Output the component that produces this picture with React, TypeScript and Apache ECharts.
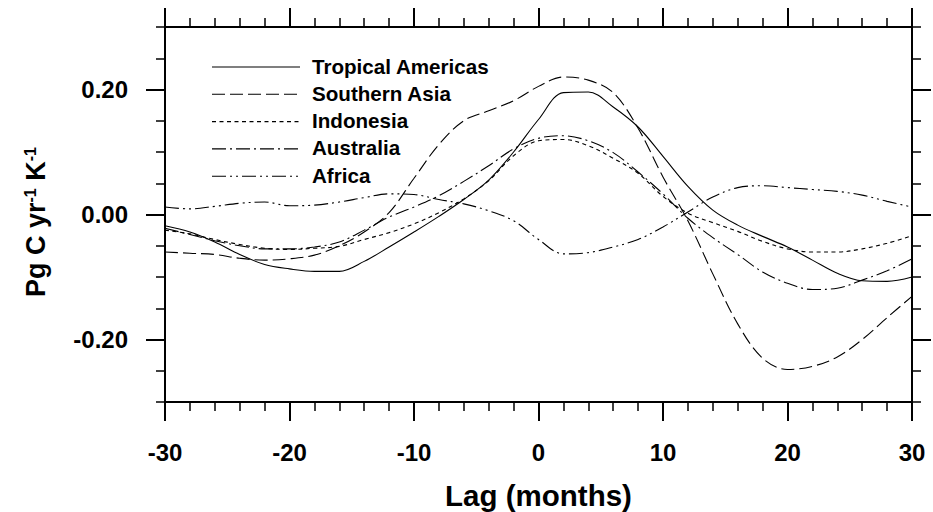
import React, { useEffect, useRef } from "react";
import * as echarts from "echarts";

const lags = [-30, -28, -26, -24, -22, -20, -18, -16, -14, -12, -10, -8, -6, -4, -2, 0, 2, 4, 6, 8, 10, 12, 14, 16, 18, 20, 22, 24, 26, 28, 30];

const tropicalAmericas = [-0.018, -0.028, -0.044, -0.064, -0.08, -0.087, -0.091, -0.091, -0.075, -0.052, -0.028, -0.003, 0.024, 0.055, 0.1, 0.152, 0.195, 0.196, 0.172, 0.14, 0.093, 0.045, 0.007, -0.017, -0.035, -0.052, -0.073, -0.094, -0.106, -0.107, -0.1];
const southernAsia = [-0.06, -0.062, -0.064, -0.07, -0.073, -0.071, -0.065, -0.05, -0.028, 0.003, 0.058, 0.112, 0.15, 0.166, 0.182, 0.205, 0.22, 0.215, 0.195, 0.138, 0.06, -0.01, -0.095, -0.175, -0.23, -0.248, -0.243, -0.228, -0.2, -0.165, -0.131];
const indonesia = [-0.025, -0.031, -0.04, -0.048, -0.054, -0.056, -0.054, -0.051, -0.04, -0.029, -0.015, 0.003, 0.025, 0.054, 0.094, 0.118, 0.12, 0.11, 0.09, 0.066, 0.029, 0.002, -0.013, -0.027, -0.043, -0.055, -0.06, -0.06, -0.055, -0.046, -0.034];
const australia = [-0.022, -0.032, -0.042, -0.05, -0.055, -0.055, -0.052, -0.044, -0.025, -0.004, 0.012, 0.03, 0.053, 0.078, 0.105, 0.122, 0.126, 0.118, 0.099, 0.068, 0.033, -0.006, -0.037, -0.064, -0.092, -0.11, -0.12, -0.118, -0.105, -0.09, -0.071];
const africa = [0.012, 0.009, 0.013, 0.018, 0.02, 0.014, 0.015, 0.02, 0.027, 0.033, 0.032, 0.024, 0.017, 0.006, -0.01, -0.04, -0.063, -0.061, -0.052, -0.04, -0.02, 0.004, 0.028, 0.043, 0.046, 0.043, 0.04, 0.037, 0.031, 0.021, 0.012];

const seriesNames = ["Tropical Americas", "Southern Asia", "Indonesia", "Australia", "Africa"];
const yMajorTicks = [-0.2, 0, 0.2];

export default function App() {
  const ref = useRef<HTMLDivElement>(null);
  useEffect(() => {
    const chart = echarts.init(ref.current!, null, { renderer: "svg" });
    const font = "Liberation Sans";
    const weight = "bold";
    const dashes: any[] = ["solid", [13, 5], [4, 3.5], [14, 4, 2, 4], [14, 4, 2, 4, 2, 4]];
    const allData = [tropicalAmericas, southernAsia, indonesia, australia, africa];
    const series = allData.map((vals, i) => ({
      type: "line",
      name: seriesNames[i],
      data: lags.map((x, j) => [x, vals[j]]),
      showSymbol: false,
      symbol: "none",
      smooth: 0.35,
      xAxisIndex: 0,
      yAxisIndex: 0,
      silent: true,
      lineStyle: { color: "#000", width: 1.1, type: dashes[i] },
    }));

    const graphic: any[] = [];
    const legendTop = 66;
    const legendStep = 27.3;
    seriesNames.forEach((n, i) => {
      const y = legendTop + i * legendStep;
      graphic.push({
        type: "line",
        shape: { x1: 212, y1: y + 1, x2: 300, y2: y + 1 },
        style: { stroke: "#000", lineWidth: 1.1, lineDash: i === 0 ? null : dashes[i] },
      });
      graphic.push({
        type: "text",
        x: 312,
        y: y,
        style: { text: n, fontSize: 20.6, fontWeight: weight, fontFamily: font, fill: "#000", align: "left", verticalAlign: "middle" },
      });
    });
    graphic.push({
      type: "text",
      x: 36,
      y: 222,
      rotation: Math.PI / 2,
      style: {
        text: "{n|Pg C yr}{s|-1}{n| K}{s|-1}",
        align: "center",
        verticalAlign: "middle",
        fill: "#000",
        rich: {
          n: { fontSize: 27, fontWeight: weight, fontFamily: font, fill: "#000" },
          s: { fontSize: 16, fontWeight: weight, fontFamily: font, fill: "#000", verticalAlign: "top" },
        },
      },
    });

    const axisLine = { show: true, onZero: false, lineStyle: { color: "#000", width: 2 } };
    const majorTick = { show: true, length: 19, lineStyle: { color: "#000", width: 2 } };
    const minorTick = { show: true, splitNumber: 5, length: 9, lineStyle: { color: "#000", width: 1.5 } };

    chart.setOption({
      animation: false,
      grid: { left: 165, right: 21, top: 27, bottom: 110, outerBoundsMode: "none" },
      xAxis: [
        {
          type: "value", min: -30, max: 30, interval: 10, position: "bottom",
          axisLine, axisTick: majorTick, minorTick,
          splitLine: { show: false },
          axisLabel: { fontSize: 24, fontWeight: weight, fontFamily: font, color: "#000", margin: 38 },
          name: "Lag (months)", nameLocation: "middle", nameGap: 78,
          nameTextStyle: { fontSize: 29.5, fontWeight: weight, fontFamily: font, color: "#000" },
        },
        {
          type: "value", min: -30, max: 30, interval: 10, position: "top",
          axisLine, axisTick: majorTick, minorTick,
          splitLine: { show: false }, axisLabel: { show: false },
        },
      ],
      yAxis: [
        {
          type: "value", min: -0.3, max: 0.3, interval: 0.05, position: "left",
          axisLine, axisTick: { show: true, length: 9, lineStyle: { color: "#000", width: 1.5 } },
          splitLine: { show: false }, axisLabel: { show: false },
        },
        {
          type: "value", min: -0.3, max: 0.3, position: "left",
          axisLine: { show: false, onZero: false },
          axisTick: { show: true, customValues: yMajorTicks, length: 19, lineStyle: { color: "#000", width: 2 } },
          splitLine: { show: false },
          axisLabel: {
            customValues: yMajorTicks, fontSize: 24, fontWeight: weight, fontFamily: font, color: "#000", margin: 37,
            formatter: (v: number) => v.toFixed(2),
          },
        },
        {
          type: "value", min: -0.3, max: 0.3, interval: 0.05, position: "right",
          axisLine, axisTick: { show: true, length: 9, lineStyle: { color: "#000", width: 1.5 } },
          splitLine: { show: false }, axisLabel: { show: false },
        },
        {
          type: "value", min: -0.3, max: 0.3, position: "right",
          axisLine: { show: false, onZero: false },
          axisTick: { show: true, customValues: yMajorTicks, length: 19, lineStyle: { color: "#000", width: 2 } },
          splitLine: { show: false }, axisLabel: { show: false, customValues: yMajorTicks },
        },
      ],
      series,
      graphic,
    });
    return () => chart.dispose();
  }, []);
  return <div ref={ref} style={{ position: "absolute", left: 0, top: 0, width: 933, height: 512, background: "#fff" }} />;
}
